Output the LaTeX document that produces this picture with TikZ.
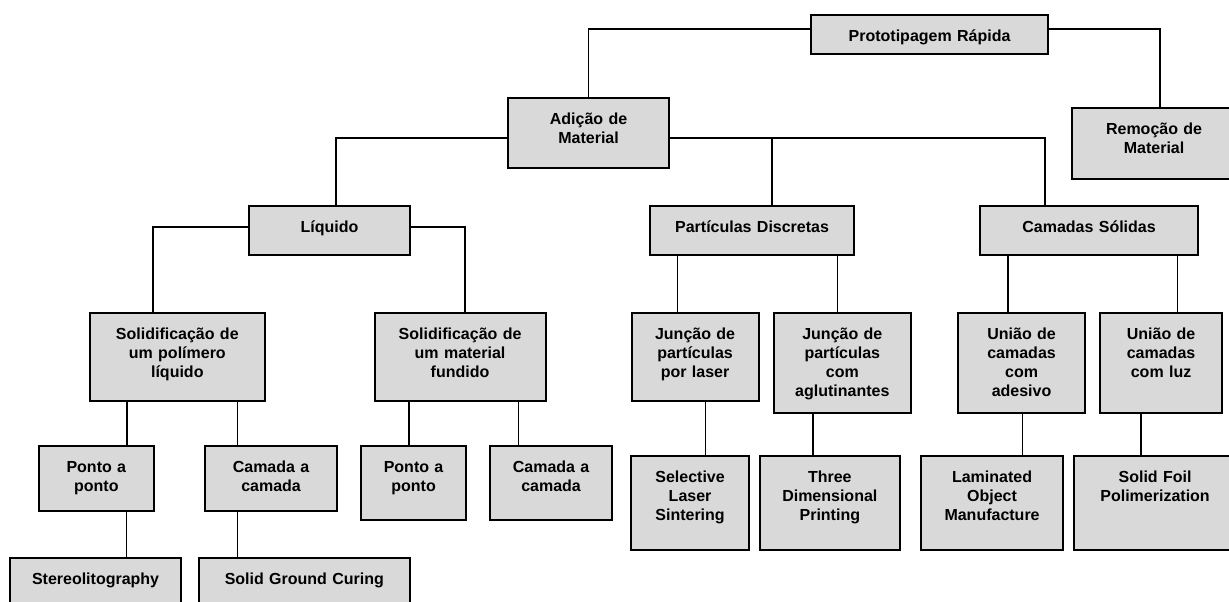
\documentclass[tikz,border=0pt]{standalone}
\usepackage{fontspec}
\setmainfont{Liberation Sans}
\usetikzlibrary{calc}

\definecolor{boxgray}{RGB}{217,217,217}

\tikzset{
  blk/.style={draw, line width=1.6pt, fill=boxgray, anchor=north west,
    inner sep=0pt, align=center, text height=19.5pt,
    font=\fontsize{12}{14.25}\selectfont\bfseries},
  link/.style={line width=1.35pt},
}

\begin{document}
\begin{tikzpicture}[x=0.75pt, y=-0.75pt]
  % page frame (units are pixels, y grows downward)
  \useasboundingbox (0,0) rectangle (1229,601);
  \clip (0,0) rectangle (1229,601);

  % boxes: name / left / top / width / height / text
  % text hangs from the top edge, first baseline 26 below it
  \foreach \id/\bx/\by/\bw/\bh/\txt in {
      proto/810/14/237/39/{Prototipagem Rápida},
      adicao/507/97/161/70/{Adição de\\Material},
      remocao/1071/107/164/71/{Remoção de\\Material},
      liquido/248/205/161/49/{Líquido},
      particulas/649/205/204/49/{Partículas Discretas},
      camadas/979/205/218/49/{Camadas Sólidas},
      solpol/88.5/312/175.5/87.5/{Solidificação de\\um polímero\\líquido},
      solmat/373.5/312/171/87.5/{Solidificação de\\um material\\fundido},
      laser/630.5/312/127/87.5/{Junção de\\partículas\\por laser},
      aglut/772.5/312/137.5/100/{Junção de\\partículas\\com\\aglutinantes},
      adesivo/957/312/127/100/{União de\\camadas\\com\\adesivo},
      luz/1099/312/122/100/{União de\\camadas\\com luz},
      ponto1/37.5/445/115.5/65/{Ponto a\\ponto},
      camada1/204/445/132/65/{Camada a\\camada},
      ponto2/360/445/105/74/{Ponto a\\ponto},
      camada2/489/445/122/74/{Camada a\\camada},
      stereo/9/557/171/60/{Stereolitography},
      sgc/197.5/557/211.5/60/{Solid Ground Curing},
      sls/630/455/118/94/{Selective\\Laser\\Sintering},
      tdp/759/455/139.5/94/{Three\\Dimensional\\Printing},
      lom/920/455/142/94/{Laminated\\Object\\Manufacture},
      sfp/1073/455/162/94/{Solid Foil\\Polimerization}}
  {
    \pgfmathsetlengthmacro{\tw}{\bw*0.75pt}
    \pgfmathsetlengthmacro{\td}{(\bh-26)*0.75pt}
    \node[blk, text width=\tw, text depth=\td] (\id) at (\bx,\by) {\txt};
  }

  % elbow links off the side of a box
  \draw[link] ($(proto.north west)+(0,15)$) -| (adicao.north);
  \draw[link] ($(proto.north east)+(0,15)$) -| ($(remocao.north west)+(89,0)$);
  \draw[link] ($(adicao.north west)+(0,41)$) -| ($(liquido.north west)+(88,0)$);
  \draw[link] ($(adicao.north east)+(0,41)$) -| ($(camadas.north west)+(66,0)$);
  \draw[link] ($(particulas.north west)+(123,0)$) |- ($(adicao.north east)+(0,41)$);
  \draw[link] ($(liquido.north west)+(0,22)$) -| ($(solpol.north west)+(64.5,0)$);
  \draw[link] ($(liquido.north east)+(0,22)$) -| ($(solmat.north west)+(91.5,0)$);

  % straight drops: parent / child / offset from parent's left edge
  \foreach \p/\c/\d in {particulas/laser/28.5, particulas/aglut/188.5,
      camadas/adesivo/29, camadas/luz/198.5,
      solpol/ponto1/38.5, solpol/camada1/149,
      solmat/ponto2/35.5, solmat/camada2/145,
      ponto1/stereo/89, camada1/sgc/33.5,
      laser/sls/75, aglut/tdp/40.5, adesivo/lom/65.5, luz/sfp/42}
    \draw[link] ($(\p.south west)+(\d,0)$) coordinate (drop) -- (drop |- \c.north);
\end{tikzpicture}
\end{document}
